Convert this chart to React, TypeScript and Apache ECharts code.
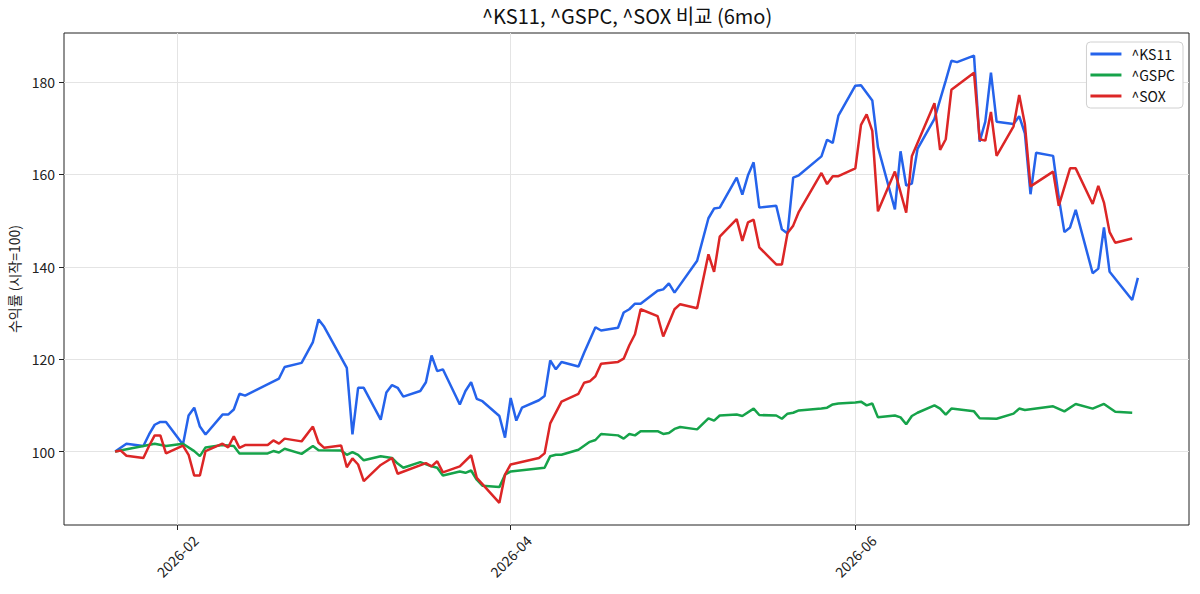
import { useEffect, useRef } from "react";
import * as echarts from "echarts";

const FONT = "'Noto Sans CJK KR', 'Noto Sans', sans-serif";
const TITLE = "^KS11, ^GSPC, ^SOX 비교 (6mo)";
const Y_NAME = "수익률 (시작=100)";

const seriesNames = ["^KS11", "^GSPC", "^SOX"];
const seriesColors = ["#2563eb", "#16a34a", "#dc2626"];

// ^KS11 (Korean trading days)
const ks11Dates = [
  "2026-01-21", "2026-01-23", "2026-01-26", "2026-01-27", "2026-01-28", "2026-01-29", "2026-01-30",
  "2026-02-02", "2026-02-03", "2026-02-04", "2026-02-05", "2026-02-06", "2026-02-09", "2026-02-10", "2026-02-11",
  "2026-02-12", "2026-02-13", "2026-02-19", "2026-02-20", "2026-02-23", "2026-02-25", "2026-02-26", "2026-02-27",
  "2026-03-03", "2026-03-04", "2026-03-05", "2026-03-06", "2026-03-09", "2026-03-10", "2026-03-11", "2026-03-12",
  "2026-03-13", "2026-03-16", "2026-03-17", "2026-03-18", "2026-03-19", "2026-03-20", "2026-03-23", "2026-03-24",
  "2026-03-25", "2026-03-26", "2026-03-27", "2026-03-30", "2026-03-31",
  "2026-04-01", "2026-04-02", "2026-04-03", "2026-04-06", "2026-04-07", "2026-04-08", "2026-04-09", "2026-04-10",
  "2026-04-13", "2026-04-14", "2026-04-16", "2026-04-17", "2026-04-20", "2026-04-21", "2026-04-22", "2026-04-23",
  "2026-04-24", "2026-04-27", "2026-04-28", "2026-04-29", "2026-04-30",
  "2026-05-04", "2026-05-06", "2026-05-07", "2026-05-08", "2026-05-11", "2026-05-12", "2026-05-13", "2026-05-14",
  "2026-05-15", "2026-05-18", "2026-05-19", "2026-05-20", "2026-05-21", "2026-05-22", "2026-05-26", "2026-05-27",
  "2026-05-28", "2026-05-29",
  "2026-06-01", "2026-06-02", "2026-06-04", "2026-06-05", "2026-06-08", "2026-06-09", "2026-06-10", "2026-06-11",
  "2026-06-12", "2026-06-15", "2026-06-17", "2026-06-18", "2026-06-19", "2026-06-22", "2026-06-23", "2026-06-24",
  "2026-06-25", "2026-06-26", "2026-06-29", "2026-06-30",
  "2026-07-01", "2026-07-02", "2026-07-03", "2026-07-06", "2026-07-07", "2026-07-08", "2026-07-09", "2026-07-10",
  "2026-07-13", "2026-07-14", "2026-07-15", "2026-07-16", "2026-07-20", "2026-07-21",
];
const ks11Values = [
  100, 101.7, 101.2, 103.7, 105.8, 106.4, 106.4,
  101.5, 107.8, 109.5, 105.4, 103.7, 108, 108, 109.1,
  112.5, 112.1, 115.8, 118.3, 119.2, 123.7, 128.6, 127,
  118.1, 103.7, 113.8, 113.8, 106.9, 112.8, 114.4, 113.8,
  111.9, 113.1, 115, 120.8, 117.4, 117.8, 110.2, 113.1,
  115, 111.4, 110.9, 107.7, 103,
  111.6, 106.7, 109.5, 111.1, 112, 119.7, 117.8, 119.4,
  118.4, 121.4, 126.9, 126.2, 126.8, 130.1, 130.8, 132,
  132, 134.8, 135.1, 136.4, 134.4,
  141.3, 150.5, 152.6, 152.8, 159.3, 155.6, 159.8, 162.6,
  152.8, 153.2, 148.1, 147.2, 159.3, 159.8, 163.9, 167.5,
  166.8, 172.7,
  179.2, 179.3, 176, 165.9, 152.4, 165, 157.6, 158,
  165.5, 172, 180.3, 184.6, 184.3, 185.7, 167.1, 171.4,
  182, 171.4, 170.9, 172.6,
  168.9, 155.7, 164.7, 164, 155, 147.5, 148.5, 152.3,
  138.6, 139.6, 148.5, 138.9, 132.8, 137.6,
];

// ^GSPC (US trading days)
const gspcDates = [
  "2026-01-21", "2026-01-26", "2026-01-28", "2026-01-30",
  "2026-02-02", "2026-02-04", "2026-02-05", "2026-02-06", "2026-02-09", "2026-02-11", "2026-02-12", "2026-02-17",
  "2026-02-18", "2026-02-19", "2026-02-20", "2026-02-23", "2026-02-25", "2026-02-26",
  "2026-03-02", "2026-03-03", "2026-03-04", "2026-03-05", "2026-03-06", "2026-03-09", "2026-03-11", "2026-03-12",
  "2026-03-13", "2026-03-16", "2026-03-18", "2026-03-19", "2026-03-20", "2026-03-23", "2026-03-24", "2026-03-25",
  "2026-03-26", "2026-03-27", "2026-03-30", "2026-03-31",
  "2026-04-01", "2026-04-07", "2026-04-08", "2026-04-09", "2026-04-10", "2026-04-13", "2026-04-15", "2026-04-16",
  "2026-04-17", "2026-04-20", "2026-04-21", "2026-04-22", "2026-04-23", "2026-04-24", "2026-04-27", "2026-04-28",
  "2026-04-29", "2026-04-30",
  "2026-05-01", "2026-05-04", "2026-05-06", "2026-05-07", "2026-05-08", "2026-05-11", "2026-05-12", "2026-05-14",
  "2026-05-15", "2026-05-18", "2026-05-19", "2026-05-20", "2026-05-21", "2026-05-22", "2026-05-26", "2026-05-27",
  "2026-05-28", "2026-05-29",
  "2026-06-01", "2026-06-02", "2026-06-03", "2026-06-04", "2026-06-05", "2026-06-08", "2026-06-09", "2026-06-10",
  "2026-06-11", "2026-06-12", "2026-06-15", "2026-06-16", "2026-06-17", "2026-06-18", "2026-06-22", "2026-06-23",
  "2026-06-26", "2026-06-29", "2026-06-30",
  "2026-07-01", "2026-07-06", "2026-07-08", "2026-07-10", "2026-07-13", "2026-07-15", "2026-07-17", "2026-07-20",
];
const gspcValues = [
  100, 101.2, 101.7, 101.2,
  101.7, 100.1, 99, 100.9, 101.4, 101.2, 99.6, 99.6,
  100.1, 99.8, 100.6, 99.5, 101.2, 100.3,
  100.2, 99.3, 99.9, 99.3, 98.1, 99, 98.6, 97.4,
  96.5, 97.7, 96.8, 96.5, 94.8, 95.7, 95.4, 95.9,
  93.9, 92.6, 92.3, 95,
  95.7, 96.5, 99, 99.3, 99.3, 100.4, 102.1, 102.5,
  103.8, 103.5, 102.8, 103.8, 103.5, 104.4, 104.4, 103.8,
  104, 104.9,
  105.3, 104.8, 107.2, 106.7, 107.8, 108, 107.7, 109.3,
  107.9, 107.8, 107.1, 108.2, 108.4, 108.9, 109.3, 109.5,
  110.2, 110.4,
  110.6, 110.8, 110, 110.4, 107.4, 107.8, 107.4, 105.9,
  107.7, 108.4, 110, 109.3, 108, 109.3, 108.7, 107.2,
  107.1, 108.2, 109.3,
  109, 109.8, 108.7, 110.3, 109.3, 110.3, 108.6, 108.4,
];

// ^SOX (US trading days)
const soxDates = [
  "2026-01-21", "2026-01-22", "2026-01-23", "2026-01-26", "2026-01-27", "2026-01-28", "2026-01-29", "2026-01-30",
  "2026-02-02", "2026-02-03", "2026-02-04", "2026-02-05", "2026-02-06", "2026-02-09", "2026-02-10", "2026-02-11",
  "2026-02-12", "2026-02-13", "2026-02-17", "2026-02-18", "2026-02-19", "2026-02-20", "2026-02-23", "2026-02-25",
  "2026-02-26", "2026-02-27",
  "2026-03-02", "2026-03-03", "2026-03-04", "2026-03-05", "2026-03-06", "2026-03-09", "2026-03-11", "2026-03-12",
  "2026-03-17", "2026-03-18", "2026-03-19", "2026-03-20", "2026-03-23", "2026-03-25", "2026-03-26", "2026-03-30",
  "2026-03-31",
  "2026-04-01", "2026-04-06", "2026-04-07", "2026-04-08", "2026-04-10", "2026-04-13", "2026-04-14", "2026-04-15",
  "2026-04-16", "2026-04-17", "2026-04-20", "2026-04-21", "2026-04-22", "2026-04-23", "2026-04-24", "2026-04-27",
  "2026-04-28", "2026-04-30",
  "2026-05-01", "2026-05-04", "2026-05-06", "2026-05-07", "2026-05-08", "2026-05-11", "2026-05-12", "2026-05-13",
  "2026-05-14", "2026-05-15", "2026-05-18", "2026-05-19", "2026-05-20", "2026-05-21", "2026-05-22", "2026-05-26",
  "2026-05-27", "2026-05-28", "2026-05-29",
  "2026-06-01", "2026-06-02", "2026-06-03", "2026-06-04", "2026-06-05", "2026-06-08", "2026-06-10", "2026-06-11",
  "2026-06-15", "2026-06-16", "2026-06-17", "2026-06-18", "2026-06-22", "2026-06-23", "2026-06-24", "2026-06-25",
  "2026-06-26", "2026-06-29", "2026-06-30",
  "2026-07-01", "2026-07-02", "2026-07-06", "2026-07-07", "2026-07-09", "2026-07-10", "2026-07-13", "2026-07-14",
  "2026-07-15", "2026-07-16", "2026-07-17", "2026-07-20",
];
const soxValues = [
  100, 100.2, 99.1, 98.6, 101.2, 103.5, 103.5, 99.6,
  101.3, 99.3, 94.8, 94.8, 100.1, 101.7, 100.9, 103.3,
  100.8, 101.4, 101.4, 102.4, 101.7, 102.8, 102.2, 105.4,
  101.9, 100.8,
  101.3, 96.6, 98.5, 97.2, 93.6, 97.1, 98.6, 95.2,
  97.5, 96.8, 97.9, 95.5, 96.8, 99.2, 94.3, 88.9,
  95,
  97.2, 98.6, 99.6, 106.1, 110.8, 112.5, 114.9, 115.2,
  116.3, 119, 119.4, 120.1, 123, 125.4, 130.8, 129.3,
  124.9, 130.8,
  131.9, 131, 142.7, 138.9, 146.5, 150.3, 145.6, 149.6,
  150.2, 144.2, 140.5, 140.5, 147.3, 148.9, 151.9, 160.3,
  157.9, 159.6, 159.6,
  161.3, 170.7, 173, 169.4, 152, 160.6, 151.7, 163.9,
  175.4, 165.3, 167.6, 178.3, 182, 167.6, 167.3, 173.5,
  164, 170.4, 177.2,
  170.9, 157.4, 160.6, 153.2, 161.3, 161.3, 153.6, 157.5,
  153.9, 147.5, 145.2, 146.1,
];

const xTickDates = ["2026-02-01", "2026-04-01", "2026-06-01"];
const yTicks = [100, 120, 140, 160, 180];

const DAY = 86400000;
const toMs = (s: string) => Date.parse(s);
const pairs = (dates: string[], values: number[]) => dates.map((d, i) => [toMs(d), values[i]]);

const fmtMonth = (v: number) => {
  const d = new Date(v);
  return `${d.getUTCFullYear()}-${String(d.getUTCMonth() + 1).padStart(2, "0")}`;
};

export default function App() {
  const chartRef = useRef<HTMLDivElement>(null);

  useEffect(() => {
    if (!chartRef.current) return;
    const chart = echarts.init(chartRef.current, undefined, { renderer: "svg" });

    // matplotlib-style 5% margin around the data range
    const xMin = toMs("2026-01-21") - 9.05 * DAY;
    const xMax = toMs("2026-07-21") + 9.05 * DAY;
    const xTicks = xTickDates.map(toMs);
    const tickLine = { color: "#222", width: 1 };
    const gridLine = { color: "#e4e4e4", width: 1 };

    const data = [pairs(ks11Dates, ks11Values), pairs(gspcDates, gspcValues), pairs(soxDates, soxValues)];

    const option = {
      animation: false,
      backgroundColor: "#ffffff",
      textStyle: { fontFamily: FONT },
      title: {
        text: TITLE,
        left: 482,
        top: 5,
        padding: 0,
        textStyle: { fontFamily: FONT, fontSize: 20, fontWeight: "normal", color: "#111" },
      },
      legend: {
        orient: "vertical",
        right: 17,
        top: 42,
        icon: "rect",
        itemWidth: 31,
        itemHeight: 3,
        itemGap: 7,
        backgroundColor: "#ffffff",
        borderColor: "#d0d0d0",
        borderWidth: 1,
        borderRadius: 4,
        padding: [5, 8, 5, 4],
        textStyle: { fontFamily: FONT, fontSize: 14, color: "#111", lineHeight: 14, padding: [0, 0, 0, 5] },
        data: seriesNames,
      },
      grid: {
        left: 64,
        top: 33,
        right: 11,
        bottom: 69,
        show: true,
        borderColor: "#222",
        borderWidth: 1,
        backgroundColor: "transparent",
        containLabel: false,
        outerBoundsMode: "none",
      },
      xAxis: {
        type: "value",
        min: xMin,
        max: xMax,
        axisLine: { show: false },
        axisTick: { show: true, length: 5, customValues: xTicks, lineStyle: tickLine },
        axisLabel: {
          customValues: xTicks,
          formatter: fmtMonth,
          rotate: 45,
          align: "center",
          verticalAlign: "middle",
          margin: 31,
          fontFamily: FONT,
          fontSize: 14,
          color: "#222",
        },
        splitLine: { show: true, lineStyle: gridLine },
      },
      yAxis: {
        type: "value",
        min: 84.1,
        max: 190.6,
        name: Y_NAME,
        nameLocation: "middle",
        nameGap: 34,
        nameTextStyle: { fontFamily: FONT, fontSize: 14, color: "#222" },
        axisLine: { show: false },
        axisTick: { show: true, length: 5, customValues: yTicks, lineStyle: tickLine },
        axisLabel: { customValues: yTicks, margin: 9, fontFamily: FONT, fontSize: 14, color: "#222" },
        splitLine: { show: true, lineStyle: gridLine },
      },
      series: seriesNames.map((name, i) => ({
        name,
        type: "line",
        data: data[i],
        color: seriesColors[i],
        showSymbol: false,
        symbol: "none",
        itemStyle: { color: seriesColors[i] },
        lineStyle: { color: seriesColors[i], width: 2.5 },
      })),
    };

    chart.setOption(option);
    return () => chart.dispose();
  }, []);

  return (
    <div
      ref={chartRef}
      style={{ position: "fixed", left: 0, top: 0, width: "1200px", height: "594px", background: "#fff" }}
    />
  );
}
